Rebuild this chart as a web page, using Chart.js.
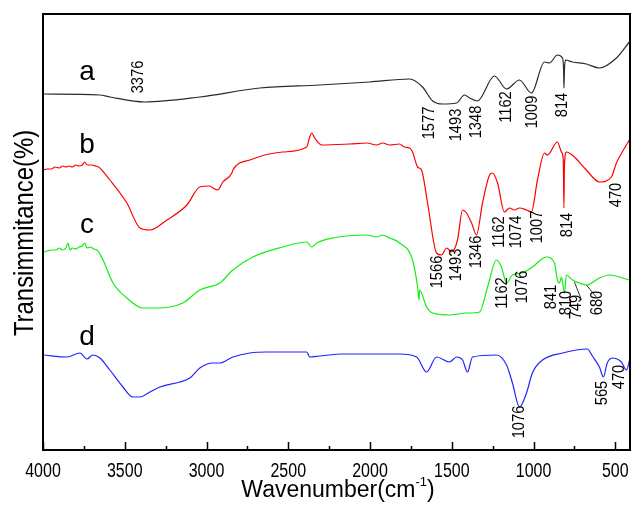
<!DOCTYPE html>
<html>
<head>
<meta charset="utf-8">
<script src="https://cdn.jsdelivr.net/npm/chart.js@4.4.1/dist/chart.umd.min.js"></script>
<style>
html, body { margin: 0; padding: 0; background: #fff; }
#wrap { width: 631px; height: 512px; position: relative; }
</style>
</head>
<body>
<div id="wrap"><canvas id="ftir"></canvas></div>
<script>
// FTIR spectra a-d, stacked; transmittance in arbitrary units (original has no y ticks)

const aWave = [4000, 3652, 3590, 3377, 3041, 2674, 2308, 2002, 1758, 1679, 1617, 1556, 1471, 1422, 1391, 1343, 1239, 1165, 1086, 1013, 933, 903, 854, 823, 816, 814, 811, 805, 762, 677, 597, 493, 414];
const aT    = [356, 355, 353, 348, 353, 362, 365, 368, 371, 363, 349, 346, 347, 355, 352, 349, 374, 361, 370, 357, 388, 387, 395, 392, 380, 362, 380, 390, 388, 386, 382, 392, 408];

const bWave = [4000, 3975, 3950, 3925, 3900, 3880, 3860, 3840, 3820, 3800, 3780, 3760, 3745, 3730, 3700, 3680, 3660, 3591, 3487, 3407, 3346, 3242, 3120, 3041, 2980, 2961, 2931, 2900, 2845, 2839, 2735, 2534, 2387, 2369, 2357, 2338, 2296, 2125, 2020, 1960, 1923, 1880, 1819, 1790, 1758, 1740, 1709, 1685, 1648, 1593, 1563, 1532, 1501, 1465, 1434, 1410, 1379, 1349, 1312, 1269, 1251, 1220, 1178, 1147, 1117, 1086, 1043, 1013, 976, 933, 915, 854, 829, 818, 814, 811, 799, 750, 677, 597, 524, 493, 414];
const bT    = [280, 281, 281, 283, 282, 284, 283, 284, 283, 285, 284, 285, 288, 285, 285, 284, 283, 270, 247, 222, 220, 230, 245, 263, 264, 262, 260, 268, 277, 280, 290, 298, 303, 313, 317, 312, 305, 306, 307, 305, 307, 305, 306, 303, 302, 298, 283, 280, 247, 197, 195, 202, 198, 210, 240, 237, 227, 215, 247, 275, 277, 267, 238, 242, 240, 242, 240, 238, 270, 297, 295, 308, 298, 290, 242, 285, 298, 293, 280, 268, 273, 287, 310];

const cWave = [4000, 3975, 3950, 3920, 3900, 3880, 3860, 3847, 3835, 3820, 3800, 3780, 3760, 3745, 3730, 3710, 3690, 3670, 3633, 3572, 3487, 3389, 3304, 3145, 3041, 2919, 2839, 2717, 2534, 2387, 2357, 2326, 2228, 2021, 1960, 1923, 1880, 1819, 1740, 1709, 1700, 1697, 1654, 1617, 1514, 1410, 1330, 1281, 1227, 1196, 1165, 1129, 1068, 1007, 921, 872, 854, 841, 829, 811, 799, 762, 719, 677, 597, 536, 414];
const cT    = [198, 199, 200, 200, 202, 200, 202, 207, 200, 202, 201, 203, 204, 207, 202, 203, 201, 200, 190, 167, 152, 142, 142, 147, 160, 167, 180, 193, 203, 208, 203, 207, 212, 215, 213, 215, 212, 207, 190, 163, 150, 160, 143, 137, 135, 137, 138, 163, 190, 183, 167, 175, 177, 183, 193, 187, 170, 167, 173, 157, 175, 170, 167, 165, 172, 175, 170];

const dWave = [4000, 3853, 3774, 3731, 3695, 3652, 3591, 3511, 3450, 3407, 3346, 3285, 3163, 3102, 3041, 2961, 2919, 2839, 2735, 2632, 2430, 2387, 2369, 2308, 2167, 1819, 1715, 1654, 1593, 1514, 1471, 1434, 1404, 1373, 1227, 1165, 1129, 1086, 1043, 1007, 945, 823, 671, 640, 597, 573, 549, 518, 463, 432, 408];
const dT    = [95, 93, 97, 91, 95, 92, 80, 63, 53, 53, 58, 63, 68, 72, 82, 87, 87, 93, 97, 98, 98, 98, 93, 94, 96, 96, 93, 78, 93, 88, 93, 90, 78, 93, 95, 85, 67, 43, 57, 77, 90, 97, 101, 94, 83, 73, 87, 92, 88, 80, 93];

// x axis ticks
const majorTicks = [4000, 3500, 3000, 2500, 2000, 1500, 1000, 500];
const tickLabels = ['4000', '3500', '3000', '2500', '2000', '1500', '1000', '500'];
const minorTicks = [3750, 3250, 2750, 2250, 1750, 1250, 750];

// curve letters
const curveNames = ['a', 'b', 'c', 'd'];
const nameWave   = [3731, 3731, 3731, 3731];
const nameT      = [370, 297, 217, 105];

// peak labels (rotated)
const peakText = ['3376', '1577', '1493', '1348', '1162', '1009', '814',
                  '1566', '1493', '1346', '1162', '1074', '1007', '814', '470',
                  '1162', '1076', '841', '810', '749', '680',
                  '1076', '565', '470'];
const peakWave = [3420, 1636, 1471, 1349, 1165, 1007, 823,
                  1587, 1471, 1349, 1208, 1104, 976, 793, 493,
                  1190, 1068, 891, 799, 738, 610,
                  1086, 579, 475];
const peakT    = [373, 327, 325, 328, 343, 338, 345,
                  178, 185, 198, 218, 218, 223, 225, 255,
                  157, 163, 153, 147, 143, 147,
                  28, 57, 73];

// leader lines for 749 / 680
const leadFrom = [[750, 168], [677, 165]];
const leadTo   = [[707, 150], [616, 153]];

const FONT = "'Liberation Sans', Arial, sans-serif";

function pts(w, t) { return w.map((v, i) => ({ x: v, y: t[i] })); }

// text with horizontal squeeze (reference glyphs are narrow)
function squeezed(ctx, text, x, y, rot, sx) {
    ctx.save();
    ctx.translate(x, y);
    ctx.rotate(rot);
    ctx.scale(sx, 1);
    ctx.fillText(text, 0, 0);
    ctx.restore();
}

const decor = {
    id: 'decor',
    afterDatasetsDraw(chart) {
        const { ctx, chartArea: ca, scales: { x, y } } = chart;
        ctx.save();
        ctx.strokeStyle = '#000';
        ctx.fillStyle = '#000';

        // frame
        ctx.lineWidth = 2;
        ctx.strokeRect(ca.left, ca.top, ca.right - ca.left, ca.bottom - ca.top);

        // inward ticks
        ctx.lineWidth = 1.5;
        ctx.beginPath();
        majorTicks.forEach(v => {
            const px = Math.round(x.getPixelForValue(v)) + 0.5;
            ctx.moveTo(px, ca.bottom); ctx.lineTo(px, ca.bottom - 8);
        });
        minorTicks.forEach(v => {
            const px = Math.round(x.getPixelForValue(v)) + 0.5;
            ctx.moveTo(px, ca.bottom); ctx.lineTo(px, ca.bottom - 4);
        });
        ctx.stroke();

        // tick labels
        ctx.font = '20px ' + FONT;
        ctx.textAlign = 'center';
        ctx.textBaseline = 'alphabetic';
        majorTicks.forEach((v, i) => squeezed(ctx, tickLabels[i], x.getPixelForValue(v), ca.bottom + 27, 0, 0.8));

        // leader lines
        ctx.lineWidth = 1;
        ctx.strokeStyle = '#333';
        ctx.beginPath();
        leadFrom.forEach((f, i) => {
            ctx.moveTo(x.getPixelForValue(f[0]), y.getPixelForValue(f[1]));
            ctx.lineTo(x.getPixelForValue(leadTo[i][0]), y.getPixelForValue(leadTo[i][1]));
        });
        ctx.stroke();

        // peak labels
        ctx.font = '17px ' + FONT;
        ctx.textAlign = 'center';
        ctx.textBaseline = 'middle';
        peakText.forEach((t, i) => {
            squeezed(ctx, t, x.getPixelForValue(peakWave[i]), y.getPixelForValue(peakT[i]), -Math.PI / 2, 0.86);
        });

        // curve letters
        ctx.font = '28px ' + FONT;
        ctx.textBaseline = 'alphabetic';
        curveNames.forEach((n, i) => {
            ctx.fillText(n, x.getPixelForValue(nameWave[i]), y.getPixelForValue(nameT[i]));
        });

        // y title
        ctx.font = '27px ' + FONT;
        squeezed(ctx, 'Transimmitance(%)', 33, 233, -Math.PI / 2, 0.885);

        // x title with superscript
        const main = 'Wavenumber(cm', sup = '-1', close = ')';
        const big = '23px ' + FONT, small = '13px ' + FONT;
        ctx.font = big; const w1 = ctx.measureText(main).width, w3 = ctx.measureText(close).width;
        ctx.font = small; const w2 = ctx.measureText(sup).width;
        let sx = 338 - (w1 + w2 + w3) / 2;
        const base = 497;
        ctx.textAlign = 'left';
        ctx.font = big; ctx.fillText(main, sx, base); sx += w1;
        ctx.font = small; ctx.fillText(sup, sx, base - 11); sx += w2;
        ctx.font = big; ctx.fillText(close, sx, base);

        ctx.restore();
    }
};

new Chart(document.getElementById('ftir'), {
    type: 'scatter',
    data: {
        datasets: [
            { label: 'a', data: pts(aWave, aT), borderColor: '#2a2a2a' },
            { label: 'b', data: pts(bWave, bT), borderColor: '#ff0000' },
            { label: 'c', data: pts(cWave, cT), borderColor: '#11ee11' },
            { label: 'd', data: pts(dWave, dT), borderColor: '#2222ff' }
        ].map(d => Object.assign(d, { showLine: true, pointRadius: 0, borderWidth: 1.2, cubicInterpolationMode: 'monotone' }))
    },
    options: {
        responsive: true,
        maintainAspectRatio: false,
        animation: false,
        layout: { padding: { left: 43, top: 14, right: 1, bottom: 0 } },
        plugins: { legend: { display: false }, tooltip: { enabled: false } },
        scales: {
            x: {
                type: 'linear',
                reverse: true,
                min: 410,
                max: 4000,
                afterBuildTicks: s => { s.ticks = majorTicks.map(v => ({ value: v })); },
                afterFit: s => { s.height = 62; },
                grid: { display: false },
                border: { display: false },
                ticks: { display: false }
            },
            y: {
                display: false,
                min: 0,
                max: 436
            }
        }
    },
    plugins: [decor]
});
</script>
</body>
</html>
